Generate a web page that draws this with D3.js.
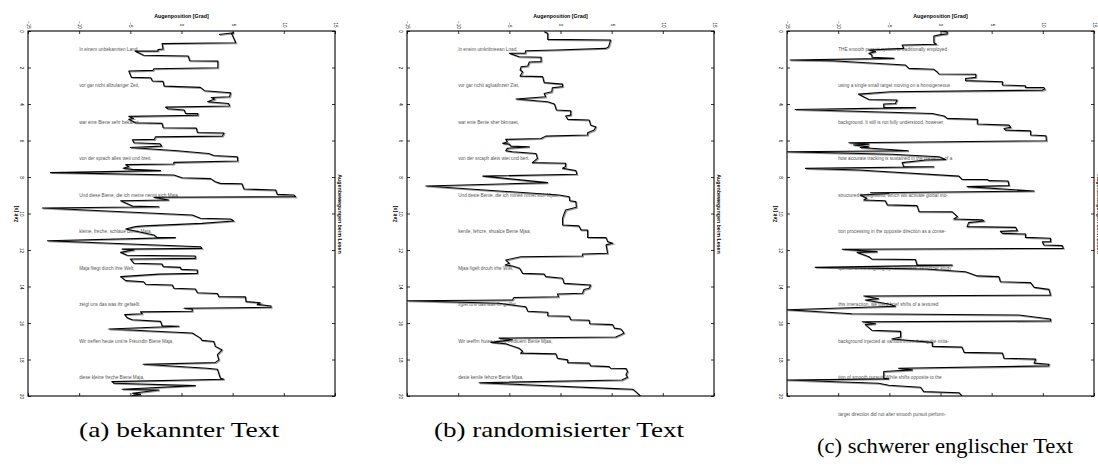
<!DOCTYPE html>
<html>
<head>
<meta charset="utf-8">
<script src="https://cdn.jsdelivr.net/npm/d3@7"></script>
<style>
  body { margin: 0; background: #fff; }
  svg { display: block; }
</style>
</head>
<body>
<svg id="fig" width="1098" height="468"></svg>
<script>
// time axis [s] and eye position [deg]
var timeTicks = [0, 2, 4, 6, 8, 10, 12, 14, 16, 18, 20];
var posTicks = [-15, -10, -5, 0, 5, 10, 15];

var sentencesA = [
  "In einem unbekannten Land,",
  "vor gar nicht allzulanger Zeit,",
  "war eine Biene sehr bekannt,",
  "von der sprach alles weit und breit.",
  "Und diese Biene, die ich meine nennt sich Maja.",
  "kleine, freche, schlaue Biene Maja,",
  "Maja fliegt durch ihre Welt,",
  "zeigt uns das was ihr gefaellt.",
  "Wir treffen heute uns're Freundin Biene Maja,",
  "diese kleine freche Biene Maja,"
];
var sentencesB = [
  "In eneim utnkribneean Lnad,",
  "vor gar nchit agluailnzeir Ziet,",
  "war enie Benie sher bknnaet,",
  "von der srcaph aleis wiet und bert.",
  "Und desie Benie, die ich minee nnnet sich Mjaa,",
  "kenile, fehcre, shualce Benie Mjaa,",
  "Mjaa figelt drcuh irhe Wlet,",
  "zgiet uns das was ihr gellfat.",
  "Wir teeffrn hutee usn're Fndiuern Benie Mjaa,",
  "desie kenile fehcre Benie Mjaa,"
];
var sentencesC = [
  "THE smooth pursuit system is traditionally employed",
  "using a single small target moving on a homogeneous",
  "background. It still is not fully understood, however,",
  "how accurate tracking is sustained in the presence of a",
  "structured background, which will activate global mo-",
  "tion processing in the opposite direction as a conse-",
  "quence of the ongoing eye movement. To further study",
  "this interaction, we used brief shifts of a textured",
  "background injected at various times during the initia-",
  "tion of smooth pursuit. While shifts opposite to the",
  "target direction did not alter smooth pursuit perform-"
];

// [time s, eye position deg]
var traceA = [[0.19,3.65],[0.1,5.1],[0.15,4.9],[0.64,5.3],[0.69,-1.9],[0.99,-1.8],[1.02,-2.3],[1.1,-2.3],[1.1,-4.55],[1.33,-3.7],[1.37,0.65],[1.63,0.8],[1.65,3.55],[2.01,3.55],[2.07,-2.7],[2.16,-2.8],[2.19,-5.15],[2.54,-4.9],[2.56,-3.0],[2.74,-2.85],[2.76,-1.8],[3.02,-1.7],[3.09,1.85],[3.27,2.25],[3.38,4.8],[3.6,4.7],[3.64,2.9],[3.73,3.25],[3.88,2.55],[3.97,4.6],[4.11,4.7],[4.17,-1.55],[4.26,-1.35],[4.33,0.25],[4.52,0.4],[4.53,1.6],[4.62,1.6],[4.68,-5.15],[4.79,-4.7],[4.84,-5.15],[5.03,-4.5],[5.06,-1.9],[5.3,-1.8],[5.32,1.45],[5.56,1.55],[5.59,4.15],[5.76,4.0],[5.8,-2.55],[5.94,-2.65],[5.96,-4.8],[6.12,-4.65],[6.18,-2.1],[6.31,-1.95],[6.38,-5.0],[6.56,-0.4],[6.71,2.65],[6.82,3.15],[6.89,5.45],[7.12,5.5],[7.2,-0.75],[7.29,-0.75],[7.32,-5.45],[7.43,-5.15],[7.52,-5.7],[7.58,-4.8],[7.65,-2.05],[7.76,-12.8],[7.89,-0.75],[8.04,0.05],[8.09,2.85],[8.26,3.3],[8.35,3.8],[8.37,5.9],[8.66,6.1],[8.68,7.2],[8.71,9.2],[8.95,9.35],[8.99,11.0],[9.08,11.15],[9.11,-2.7],[9.26,-1.25],[9.3,-5.95],[9.59,-4.8],[9.63,-2.2],[9.7,-13.6],[10.08,1.05],[10.26,1.85],[10.3,4.8],[10.41,5.1],[10.54,2.0],[10.68,-3.7],[10.72,-4.5],[10.85,-5.45],[11.18,-2.7],[11.31,-2.4],[11.32,-0.6],[11.49,-13.1],[11.82,1.85],[11.91,2.0],[11.95,-5.8],[12.0,-4.65],[12.13,-5.95],[12.29,-5.3],[12.33,1.35],[12.46,1.35],[12.49,-5.0],[12.73,-4.65],[12.77,-1.9],[12.91,-1.8],[12.95,-0.1],[13.06,-0.05],[13.1,1.55],[13.28,1.55],[13.32,-2.2],[13.46,-5.95],[13.68,-5.45],[13.74,-3.7],[13.88,-3.5],[13.92,-0.9],[14.1,-0.75],[14.14,1.35],[14.34,1.55],[14.38,3.5],[14.56,3.65],[14.57,6.25],[14.83,6.3],[14.89,7.7],[14.98,7.4],[15.07,8.75],[15.14,8.75],[15.19,0.25],[15.23,1.05],[15.36,1.05],[15.39,-4.0],[15.49,-3.85],[15.54,-5.55],[15.72,-5.3],[15.82,-4.8],[15.91,-2.05],[16.15,-1.9],[16.18,-0.25],[16.33,-7.1],[16.55,1.05],[16.83,1.85],[16.95,2.0],[17.01,3.15],[17.28,3.3],[17.43,3.8],[17.47,3.95],[17.74,3.5],[18.02,3.65],[18.17,3.3],[18.26,-3.75],[18.48,2.5],[18.53,3.5],[19.03,3.8],[19.08,4.15],[19.21,-6.8],[19.3,-6.6],[19.43,1.35],[19.63,-5.8],[19.67,-2.2],[19.85,-4.8],[19.91,-4.0],[19.98,-4.8],[20.0,-4.6]];

var traceB = [[0.04,-1.6],[0.13,-1.25],[0.46,-1.25],[0.49,4.9],[0.86,4.7],[0.95,4.45],[1.04,-0.45],[1.08,-3.4],[1.22,-3.45],[1.22,-5.0],[1.41,-4.05],[1.44,-1.9],[1.68,-1.9],[1.7,-3.05],[1.92,-3.2],[1.96,-3.85],[2.14,-3.95],[2.23,-3.7],[2.47,-3.95],[2.5,-1.75],[2.83,-1.6],[2.91,0.2],[3.05,0.2],[3.11,-0.8],[3.33,-0.85],[3.42,-1.6],[3.6,-1.45],[3.73,-4.35],[3.88,-1.25],[4.0,-0.6],[4.33,-0.4],[4.37,1.0],[4.61,1.0],[4.66,0.5],[4.84,0.7],[4.88,2.8],[5.16,2.95],[5.25,3.45],[5.43,3.3],[5.58,2.65],[5.7,2.65],[5.76,-1.45],[5.89,-1.9],[5.94,-5.35],[6.07,-5.2],[6.16,-5.65],[6.2,-5.0],[6.31,-4.85],[6.34,-3.05],[6.43,-5.2],[6.56,-5.35],[6.62,-4.7],[6.71,-2.4],[6.98,-2.25],[7.21,-2.75],[7.25,0.5],[7.43,0.5],[7.52,0.2],[7.65,1.5],[7.85,1.6],[7.95,-7.6],[8.31,-1.25],[8.49,-13.15],[8.99,-0.15],[9.08,0.85],[9.3,0.9],[9.35,1.5],[9.66,1.55],[9.81,0.5],[10.03,0.35],[10.26,0.2],[10.63,0.2],[10.68,1.8],[10.9,2.0],[10.91,2.65],[11.31,2.65],[11.32,4.45],[11.54,4.6],[11.63,5.1],[11.72,4.45],[12.18,4.6],[12.22,2.15],[12.33,2.15],[12.37,-3.9],[12.55,-5.35],[12.73,-5.0],[12.82,-5.4],[12.88,-4.7],[13.0,-4.0],[13.28,-3.7],[13.32,-1.6],[13.46,-1.45],[13.55,0.2],[13.83,0.35],[13.92,2.95],[14.1,2.8],[14.16,2.3],[14.37,2.15],[14.41,-0.3],[14.56,-0.2],[14.6,-4.55],[14.74,-4.7],[14.78,-14.95],[14.92,-6.0],[15.11,-3.4],[15.36,-3.2],[15.41,-1.25],[15.6,-1.25],[15.63,0.85],[15.82,1.0],[15.85,2.8],[16.04,2.85],[16.09,5.1],[16.28,5.25],[16.33,5.9],[16.55,6.2],[16.64,5.9],[16.77,5.4],[16.83,-6.0],[16.92,-4.7],[17.06,-6.8],[17.14,-5.35],[17.38,-4.05],[17.56,-3.7],[17.65,-3.9],[17.69,-0.45],[17.93,-0.3],[18.02,0.7],[18.17,0.7],[18.2,2.8],[18.35,2.95],[18.39,4.75],[18.48,4.9],[18.49,6.4],[18.66,6.55],[18.84,6.4],[18.97,6.55],[19.12,6.0],[19.27,-7.95],[19.58,4.75],[19.63,7.05],[19.76,7.35],[20.0,7.8]];

var traceC = [[0.0,0.0],[0.04,0.65],[0.16,0.65],[0.2,0.0],[0.27,-0.65],[0.64,-0.65],[0.73,-0.4],[0.77,-3.75],[0.95,-3.6],[1.04,-7.0],[1.13,-6.35],[1.22,-7.0],[1.32,-6.7],[1.44,-6.7],[1.5,-4.55],[1.59,-14.7],[1.63,-10.6],[1.86,-3.45],[2.05,-3.1],[2.1,-0.65],[2.23,-0.35],[2.36,-0.15],[2.37,3.45],[2.54,3.45],[2.6,2.45],[2.72,2.45],[2.78,6.05],[2.96,6.05],[3.0,8.3],[3.09,8.3],[3.1,10.1],[3.18,10.2],[3.24,9.95],[3.33,-4.9],[3.46,-8.0],[3.75,-7.0],[3.78,-4.25],[3.97,-4.4],[4.0,-5.55],[4.19,-5.55],[4.2,-2.45],[4.3,-14.2],[4.52,-0.8],[4.66,0.35],[4.79,0.65],[4.84,3.6],[5.1,3.6],[5.16,6.7],[5.28,6.85],[5.34,6.2],[5.43,6.35],[5.47,8.8],[5.7,8.8],[5.74,10.3],[6.01,10.35],[6.12,-8.95],[6.2,-7.0],[6.25,-8.5],[6.34,-7.0],[6.38,-7.85],[6.56,-3.15],[6.62,-15.0],[6.75,-4.75],[6.89,-0.15],[7.04,0.5],[7.07,-1.45],[7.21,-3.75],[7.43,-3.6],[7.44,-0.65],[7.53,-13.2],[7.62,-8.0],[7.95,1.8],[8.13,2.1],[8.14,4.55],[8.2,4.75],[8.22,6.6],[8.47,6.7],[8.53,2.6],[8.77,9.15],[8.86,-6.85],[8.9,-5.05],[8.99,-7.85],[9.17,-7.2],[9.26,-7.5],[9.3,-5.4],[9.53,-5.2],[9.57,-2.3],[9.9,-2.1],[9.91,1.15],[10.17,1.65],[10.3,1.3],[10.35,4.1],[10.41,4.25],[10.5,2.75],[10.72,2.6],[10.76,7.35],[10.94,7.5],[10.98,5.85],[11.09,6.05],[11.12,8.3],[11.31,8.3],[11.36,10.75],[11.54,10.75],[11.55,9.95],[11.73,10.1],[11.76,11.9],[11.91,12.0],[11.96,-9.6],[12.09,-6.2],[12.13,-8.15],[12.37,-7.0],[12.5,-6.7],[12.52,-2.45],[12.82,-2.3],[12.83,1.15],[12.95,-12.25],[13.04,-1.45],[13.19,2.45],[13.42,3.6],[13.46,5.7],[13.74,5.85],[13.79,8.8],[14.05,9.15],[14.16,10.6],[14.47,10.75],[14.52,-7.5],[14.67,-6.05],[14.74,-7.35],[14.96,-5.05],[15.08,-4.4],[15.27,-15.0],[15.49,-8.65],[15.56,7.65],[15.78,10.75],[15.89,10.75],[15.93,-7.65],[16.04,-6.35],[16.09,-7.35],[16.4,-6.7],[16.46,-3.9],[16.77,-3.9],[16.88,-4.75],[17.06,-0.8],[17.28,-0.8],[17.32,2.1],[17.61,2.3],[17.65,6.05],[17.93,6.2],[17.98,9.3],[18.2,9.15],[18.26,10.6],[18.35,10.55],[18.48,-4.1],[18.57,-2.75],[18.66,-5.55],[19.03,-5.55],[19.06,-5.05],[19.12,-15.0],[19.3,-6.05],[19.41,-5.05],[19.52,-1.95],[19.76,-1.65],[19.82,1.8],[20.0,2.1]];

var captions = ["(a) bekannter Text", "(b) randomisierter Text", "(c) schwerer englischer Text"];

var panels = [
  { left: 28,  trace: traceA, lines: sentencesA, caption: captions[0], capX: 179, capY: 430, capW: 200 },
  { left: 407, trace: traceB, lines: sentencesB, caption: captions[1], capX: 559, capY: 430, capW: 250 },
  { left: 787, trace: traceC, lines: sentencesC, caption: captions[2], capX: 945, capY: 446, capW: 256 }
];

var plotW = 307, plotTop = 31, plotBottom = 396;
var sans = "'Liberation Sans', Arial, sans-serif";

var svg = d3.select("#fig");

panels.forEach(function (p, i) {
  var x = d3.scaleLinear().domain([-15, 15]).range([p.left, p.left + plotW]);
  var y = d3.scaleLinear().domain([0, 20]).range([plotTop, plotBottom]);
  var g = svg.append("g");

  g.append("clipPath").attr("id", "clip" + i)
    .append("rect")
    .attr("x", p.left).attr("y", plotTop)
    .attr("width", plotW).attr("height", plotBottom - plotTop);

  // sentences read during the trial
  g.selectAll(".sent")
    .data(p.lines)
    .enter().append("text")
    .attr("class", "sent")
    .attr("x", x(-10))
    .attr("y", function (d, k) { return y(2 * k + 1) + 1.6; })
    .style("font-family", sans)
    .style("font-size", "4.7px")
    .style("fill", "#555")
    .text(function (d) { return d; });

  var line = d3.line()
    .x(function (d) { return x(d[1]); })
    .y(function (d) { return y(d[0]); });

  var tg = g.append("g").attr("clip-path", "url(#clip" + i + ")");
  tg.append("path")
    .datum(p.trace)
    .attr("d", line)
    .attr("transform", "translate(0.9,0.9)")
    .style("fill", "none")
    .style("stroke", "#999")
    .style("stroke-width", 1.2);
  tg.append("path")
    .datum(p.trace)
    .attr("d", line)
    .style("fill", "none")
    .style("stroke", "#000")
    .style("stroke-width", 1.1)
    .style("stroke-linejoin", "round");

  // axes with inward ticks
  var axTop = g.append("g").attr("transform", "translate(0," + plotTop + ")")
    .call(d3.axisTop(x).tickValues(posTicks).tickSizeInner(-3).tickSizeOuter(0));
  var axLeft = g.append("g").attr("transform", "translate(" + p.left + ",0)")
    .call(d3.axisLeft(y).tickValues(timeTicks).tickSizeInner(-3).tickSizeOuter(0));
  g.append("g").attr("transform", "translate(0," + plotBottom + ")")
    .call(d3.axisBottom(x).tickValues(posTicks).tickSizeInner(-3).tickSizeOuter(0).tickFormat(""));
  g.append("g").attr("transform", "translate(" + (p.left + plotW) + ",0)")
    .call(d3.axisRight(y).tickValues(timeTicks).tickSizeInner(-3).tickSizeOuter(0).tickFormat(""));

  g.selectAll(".domain").remove();
  g.selectAll(".tick line").style("stroke", "#000").style("stroke-width", 0.8);

  axTop.selectAll("text")
    .attr("x", null).attr("y", null).attr("dy", "0.35em")
    .attr("transform", "translate(0,-6) rotate(90)")
    .attr("text-anchor", "middle")
    .style("font-family", sans).style("font-size", "4.5px").style("fill", "#000");
  axLeft.selectAll("text")
    .attr("x", null).attr("y", null).attr("dy", "0.35em")
    .attr("transform", "translate(-6,0) rotate(90)")
    .attr("text-anchor", "middle")
    .style("font-family", sans).style("font-size", "4.5px").style("fill", "#000");

  g.append("rect")
    .attr("x", p.left).attr("y", plotTop)
    .attr("width", plotW).attr("height", plotBottom - plotTop)
    .style("fill", "none")
    .style("stroke", "#000")
    .style("stroke-width", 1.1);

  g.append("text")
    .attr("x", (p.left + p.left + plotW) / 2)
    .attr("y", 17.5)
    .attr("text-anchor", "middle")
    .style("font-family", sans).style("font-weight", "bold").style("font-size", "5.3px")
    .text("Augenposition [Grad]");

  g.append("text")
    .attr("transform", "translate(" + (p.left - 12) + ",214) rotate(-90)")
    .attr("dy", "0.35em")
    .attr("text-anchor", "middle")
    .style("font-family", sans).style("font-weight", "bold").style("font-size", "5px")
    .text("Zeit [s]");

  g.append("text")
    .attr("transform", "translate(" + (p.left + plotW + 5) + ",214) rotate(90)")
    .attr("dy", "0.35em")
    .attr("text-anchor", "middle")
    .style("font-family", sans).style("font-weight", "bold").style("font-size", "5.3px")
    .text("Augenbewegungen beim Lesen");

  g.append("text")
    .attr("x", p.capX)
    .attr("y", p.capY + 7)
    .attr("text-anchor", "middle")
    .attr("textLength", p.capW)
    .attr("lengthAdjust", "spacingAndGlyphs")
    .style("font-family", "'Liberation Serif', 'Times New Roman', serif")
    .style("font-size", "22px")
    .style("fill", "#000")
    .text(p.caption);
});
</script>
</body>
</html>
